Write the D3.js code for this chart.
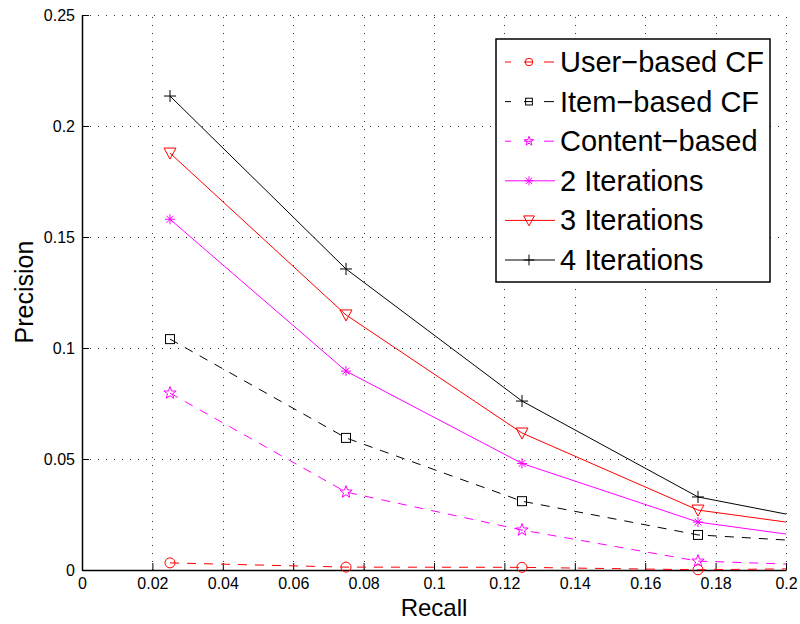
<!DOCTYPE html>
<html><head><meta charset="utf-8">
<script src="https://cdn.jsdelivr.net/npm/d3@7"></script>
<style>body{margin:0;background:#fff}svg{display:block;font-family:"Liberation Sans",Arial,Helvetica,sans-serif}</style>
</head><body>
<svg id="c" width="800" height="624"></svg>
<script>
// Data
const recall = [0.025, 0.075, 0.125, 0.175, 0.225];
const userCF      = [0.0032, 0.0013, 0.0012, 0.0001, 0.0009];
const itemCF      = [0.104, 0.0595, 0.031, 0.0158, 0.0112];
const contentB    = [0.0797, 0.0351, 0.018, 0.004, 0.0014];
const iter2       = [0.158, 0.0896, 0.048, 0.0216, 0.0108];
const iter3       = [0.1878, 0.1149, 0.0617, 0.027, 0.0162];
const iter4       = [0.2135, 0.1356, 0.0761, 0.0329, 0.0175];
const seriesNames = ["User−based CF","Item−based CF","Content−based","2 Iterations","3 Iterations","4 Iterations"];
const xTicks = [0,0.02,0.04,0.06,0.08,0.1,0.12,0.14,0.16,0.18,0.2];
const yTicks = [0,0.05,0.1,0.15,0.2,0.25];

const series = [
  {name: seriesNames[0], vals: userCF,   color:"#ff0000", dash:"9,8", marker:"circle"},
  {name: seriesNames[1], vals: itemCF,   color:"#000000", dash:"9,8", marker:"square"},
  {name: seriesNames[2], vals: contentB, color:"#ff00ff", dash:"9,8", marker:"star"},
  {name: seriesNames[3], vals: iter2,    color:"#ff00ff", dash:null,  marker:"asterisk"},
  {name: seriesNames[4], vals: iter3,    color:"#ff0000", dash:null,  marker:"triangle"},
  {name: seriesNames[5], vals: iter4,    color:"#000000", dash:null,  marker:"plus"}
];

const svg = d3.select("#c");
const L=82, R=786, T=15, B=570;
const x = d3.scaleLinear().domain([0,0.2]).range([L,R]);
const y = d3.scaleLinear().domain([0,0.25]).range([B,T]);

const defs = svg.append("defs");
defs.append("clipPath").attr("id","clip")
  .append("rect").attr("x",L).attr("y",T-8).attr("width",R-L).attr("height",B-T+16);
defs.append("clipPath").attr("id","clipL")
  .append("rect").attr("x",L).attr("y",T).attr("width",R-L).attr("height",B-T);

// grid
const grid = svg.append("g").attr("stroke","#333").attr("stroke-width",1).attr("stroke-dasharray","1,7");
grid.selectAll(".gx").data(xTicks.filter(d=>d>0)).join("line")
  .attr("x1",d=>Math.round(x(d))+0.5).attr("x2",d=>Math.round(x(d))+0.5).attr("y1",B).attr("y2",T);
grid.selectAll(".gy").data(yTicks.filter(d=>d>0)).join("line")
  .attr("y1",d=>Math.round(y(d))+0.5).attr("y2",d=>Math.round(y(d))+0.5).attr("x1",L).attr("x2",R);

// axes
const fmt = d=>String(+d.toFixed(2));
const xAxis = d3.axisBottom(x).tickValues(xTicks).tickFormat(fmt).tickSizeInner(-7).tickSizeOuter(0).tickPadding(9);
const yAxis = d3.axisLeft(y).tickValues(yTicks).tickFormat(fmt).tickSizeInner(-7).tickSizeOuter(0).tickPadding(12);
const gx = svg.append("g").attr("transform",`translate(0,${B})`).call(xAxis);
const gy = svg.append("g").attr("transform",`translate(${L},0)`).call(yAxis);
[gx,gy].forEach(g=>{
  g.select(".domain").attr("stroke","#000").attr("stroke-width",1.5);
  g.selectAll(".tick line").attr("stroke","#000").attr("stroke-width",1);
  g.selectAll(".tick text").attr("font-size",16).attr("fill","#000").attr("font-family","Liberation Sans, Arial, sans-serif");
});
gy.selectAll(".tick text").attr("dx",5);
gx.selectAll(".tick text").attr("dy","0.6em");

svg.append("text").attr("x",434).attr("y",616).attr("text-anchor","middle").attr("font-size",24).text("Recall");
svg.append("text").attr("transform","translate(33,292) rotate(-90)").attr("text-anchor","middle").attr("font-size",25).text("Precision");

// marker drawing
function drawMarker(g, type, cx, cy, color, k){
  k = k||1;
  const s = g.append("g").attr("transform",`translate(${cx},${cy})`).attr("fill","none").attr("stroke",color).attr("stroke-width",1);
  if(type==="circle") s.append("circle").attr("r",5*k);
  else if(type==="square") s.append("rect").attr("x",-4.5*k).attr("y",-4.5*k).attr("width",9*k).attr("height",9*k);
  else if(type==="star"){
    const pts=[]; for(let i=0;i<10;i++){const r=(i%2?2.6:6.5)*k; const a=-Math.PI/2+i*Math.PI/5; pts.push([r*Math.cos(a),r*Math.sin(a)]);}
    s.append("path").attr("d","M"+pts.map(p=>p.join(",")).join("L")+"Z");
  }
  else if(type==="asterisk"){
    const a=5*k,b=3.5*k;
    s.append("path").attr("d",`M${-a},0H${a}M0,${-a}V${a}M${-b},${-b}L${b},${b}M${-b},${b}L${b},${-b}`);
  }
  else if(type==="triangle") s.append("path").attr("d",`M${-6*k},${-5*k}H${6*k}L0,${6*k}Z`);
  else if(type==="plus") s.append("path").attr("d",`M${-6*k},0H${6*k}M0,${-6*k}V${6*k}`);
}

// lines
const line = d3.line().x((d,i)=>x(recall[i])).y(d=>y(d));
const plot = svg.append("g").attr("clip-path","url(#clipL)");
series.forEach(s=>{
  plot.append("path").attr("d",line(s.vals)).attr("fill","none").attr("stroke",s.color).attr("stroke-width",1)
    .attr("stroke-dasharray",s.dash);
});
const mks = svg.append("g").attr("clip-path","url(#clip)");
series.forEach(s=>{
  s.vals.forEach((v,i)=>{ if(recall[i]<=0.2) drawMarker(mks,s.marker,x(recall[i]),y(v),s.color); });
});

// legend
const lg = svg.append("g");
lg.append("rect").attr("x",496).attr("y",39).attr("width",274).attr("height",243).attr("fill","#fff").attr("stroke","#000").attr("stroke-width",1.5);
series.forEach((s,i)=>{
  const yy = 62 + i*39.6;
  if(s.dash){
    lg.append("line").attr("x1",505).attr("x2",511).attr("y1",yy).attr("y2",yy).attr("stroke",s.color);
    lg.append("line").attr("x1",524).attr("x2",532).attr("y1",yy).attr("y2",yy).attr("stroke",s.color);
    lg.append("line").attr("x1",544).attr("x2",554).attr("y1",yy).attr("y2",yy).attr("stroke",s.color);
  } else {
    lg.append("line").attr("x1",505).attr("x2",555).attr("y1",yy).attr("y2",yy).attr("stroke",s.color);
  }
  drawMarker(lg, s.marker, 529, yy, s.color, s.dash?0.75:0.9);
  lg.append("text").attr("x",560).attr("y",yy+10).attr("font-size",29).attr("fill","#000").text(s.name);
});
</script>
</body></html>
